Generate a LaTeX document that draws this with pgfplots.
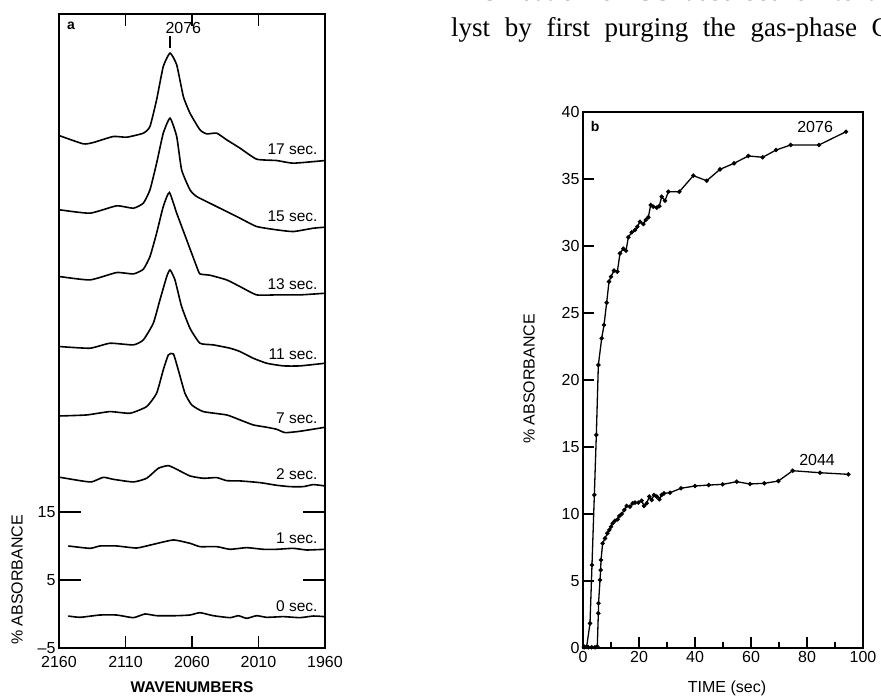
\documentclass[border=0pt]{standalone}
\usepackage{fontspec}
\setmainfont{Liberation Sans}
\newfontfamily\serifbody{Liberation Serif}
\usepackage{pgfplots}
\pgfplotsset{compat=1.18}
\newcommand{\tl}{\fontsize{16bp}{18bp}\selectfont}
\newcommand{\cl}{\fontsize{15.5bp}{17bp}\selectfont}
\tikzset{
  spec/.style={black, line width=1.6bp, smooth, tension=0.3, mark=none},
  kin/.style={black, line width=1.3bp, mark=*, mark size=1.5bp, mark options={solid, fill=black}},
}
\begin{document}
\begin{tikzpicture}
\useasboundingbox (0,0) rectangle (881bp,696bp);
% running text of the page
\node[anchor=base west, inner sep=0] at (480bp,695bp) {\serifbody\fontsize{27bp}{30bp}\selectfont\makebox[420bp][s]{Oxidation of CO adsorbed on to the}};
\node[anchor=base west, inner sep=0] at (451bp,659bp) {\serifbody\fontsize{27bp}{30bp}\selectfont\makebox[458bp][s]{lyst by first purging the gas-phase CO}};

% ---------------- panel a ----------------
\begin{axis}[
  at={(59bp,48bp)}, anchor=south west, scale only axis,
  width=266bp, height=634bp,
  x dir=reverse, xmin=1960, xmax=2160, ymin=-5, ymax=88.2,
  xtick={1960,2010,2060,2110,2160},
  xticklabels={1960,2010,2060,2110,2160},
  x tick label style={yshift=-5bp},
  ytick=\empty,
  extra y ticks={-5,5,15},
  extra y tick labels={\textendash5,5,15},
  extra y tick style={major tick length=22bp},
  tick align=inside, major tick length=12bp,
  tick style={black, line width=1.3bp},
  axis line style={line width=1.4bp},
  tick label style={font=\tl},
  /pgf/number format/1000 sep={},
  /pgf/number format/assume math mode=true,
  clip=false,
]
% 17 sec
\addplot[spec] coordinates {(2159.3,70.29)(2141.7,69.11)(2134.2,69.31)(2119.2,70.19)(2109.1,70.09)(2096.6,70.68)(2091.6,71.66)(2086.6,75.59)(2081.6,80.49)(2076.5,82.45)(2071.5,80.73)(2066.5,76.07)(2061.5,73.62)(2054.0,71.17)(2049.0,70.58)(2041.4,70.68)(2033.9,69.70)(2023.9,68.48)(2011.4,66.86)(1996.3,66.66)(1983.8,66.27)(1960.0,66.66)};
% 15 sec
\addplot[spec] coordinates {(2159.3,59.41)(2136.7,58.92)(2116.7,60.00)(2104.1,59.65)(2096.6,60.39)(2091.6,62.35)(2086.6,66.27)(2081.6,70.68)(2076.5,72.89)(2071.5,70.19)(2067.8,65.29)(2061.5,62.35)(2056.5,61.37)(2044.0,60.14)(2028.9,58.67)(2023.9,58.18)(2011.4,56.96)(1996.3,56.47)(1983.8,56.22)(1968.8,56.71)(1960.0,56.86)};
% 13 sec
\addplot[spec] coordinates {(2159.3,49.60)(2136.7,49.11)(2116.7,50.19)(2104.1,49.99)(2096.6,50.68)(2091.6,52.54)(2086.6,55.98)(2081.6,59.90)(2077.0,61.96)(2071.5,58.92)(2064.0,54.99)(2056.5,51.07)(2054.0,49.99)(2046.5,49.80)(2033.9,49.11)(2023.9,48.13)(2011.4,46.91)(1996.3,46.91)(1978.8,46.91)(1960.0,47.15)};
% 11 sec
\addplot[spec] coordinates {(2159.3,39.31)(2136.7,39.07)(2121.7,39.80)(2104.1,39.56)(2096.6,40.29)(2089.1,42.74)(2084.1,46.17)(2079.0,49.60)(2076.5,50.58)(2072.8,49.11)(2067.8,45.19)(2061.5,42.00)(2054.0,39.80)(2044.0,39.56)(2031.4,39.07)(2023.9,38.58)(2013.9,37.59)(2003.8,36.86)(1991.3,36.47)(1978.8,36.47)(1960.0,36.86)};
% 7 sec
\addplot[spec] coordinates {(2159.3,29.11)(2139.2,29.26)(2121.7,29.75)(2106.6,29.51)(2094.1,30.49)(2086.6,32.45)(2081.6,35.88)(2077.8,38.08)(2074.0,38.23)(2070.3,35.88)(2065.3,32.45)(2060.2,30.73)(2051.5,29.75)(2033.9,29.26)(2023.9,28.53)(2013.9,27.79)(2003.8,27.45)(1996.3,27.15)(1990.0,26.66)(1978.8,26.86)(1960.0,27.45)};
% 2 sec
\addplot[spec] coordinates {(2159.3,20.09)(2144.2,19.60)(2135.5,19.41)(2126.7,20.09)(2119.2,19.80)(2104.1,19.41)(2094.1,19.95)(2085.3,21.42)(2077.8,21.81)(2071.5,21.27)(2061.5,20.29)(2051.5,19.95)(2041.4,20.05)(2033.9,19.60)(2023.9,19.56)(2008.9,19.31)(1996.3,18.92)(1986.3,18.72)(1976.3,18.72)(1968.8,19.02)(1960.0,18.82)};
% 1 sec
\addplot[spec] coordinates {(2153.0,10.00)(2136.7,9.65)(2129.2,10.00)(2116.7,10.00)(2101.6,9.70)(2089.1,10.24)(2074.0,10.88)(2061.5,10.39)(2054.0,9.90)(2041.4,9.90)(2031.4,9.51)(2018.9,9.75)(2006.4,9.51)(1996.3,9.51)(1983.8,9.65)(1973.8,9.41)(1960.0,9.51)};
% 0 sec
\addplot[spec] coordinates {(2153.0,-0.30)(2144.2,-0.49)(2129.2,-0.15)(2116.7,-0.15)(2104.1,-0.54)(2095.3,0.00)(2086.6,-0.25)(2071.5,-0.25)(2061.5,-0.15)(2054.0,0.19)(2044.0,-0.25)(2031.4,-0.54)(2025.1,-0.25)(2018.9,-0.64)(2011.4,-0.25)(2003.8,-0.49)(1991.3,-0.39)(1978.8,-0.54)(1968.8,-0.30)(1960.0,-0.39)};
% curve labels
\node[anchor=base east, font=\cl] at (axis cs:1963,67.6) {17 sec.};
\node[anchor=base east, font=\cl] at (axis cs:1963,57.7) {15 sec.};
\node[anchor=base east, font=\cl] at (axis cs:1963,47.7) {13 sec.};
\node[anchor=base east, font=\cl] at (axis cs:1963,37.4) {11 sec.};
\node[anchor=base east, font=\cl] at (axis cs:1963,28.0) {7 sec.};
\node[anchor=base east, font=\cl] at (axis cs:1963,19.7) {2 sec.};
\node[anchor=base east, font=\cl] at (axis cs:1963,10.4) {1 sec.};
\node[anchor=base east, font=\cl] at (axis cs:1963,0.35) {0 sec.};
\draw[line width=1.2bp] (axis cs:2076.5,83.2) -- (axis cs:2076.5,84.9);
\node[font=\tl] at (axis cs:2066.5,86.1) {2076};
\node[font=\bfseries\fontsize{14bp}{15bp}\selectfont] at (axis cs:2151,86.5) {a};
\end{axis}
\node[rotate=90, font=\tl] at (17bp,116bp) {\% ABSORBANCE};
\node[font=\bfseries\fontsize{15.5bp}{17bp}\selectfont] at (192bp,9bp) {WAVENUMBERS};

% ---------------- panel b ----------------
\begin{axis}[
  at={(583bp,48bp)}, anchor=south west, scale only axis,
  width=280bp, height=536bp,
  xmin=0, xmax=100, ymin=0, ymax=40,
  xtick={0,20,40,60,80,100},
  minor xtick={10,30,50,70,90},
  ytick={0,5,10,15,20,25,30,35,40},
  tick align=inside, tick pos=left,
  major tick length=11bp, minor tick length=6bp,
  tick style={black, line width=1.2bp},
  axis line style={line width=1.4bp},
  tick label style={font=\tl},
  /pgf/number format/assume math mode=true,
  clip=false,
]
% 2076 cm-1 band
\addplot[kin] coordinates {(0.36,0.1)(1.31,0.1)(2.5,1.84)(3.21,6.19)(4.05,11.42)(4.76,15.90)(5.48,21.12)(6.67,23.11)(7.5,24.10)(8.45,25.77)(9.29,27.34)(10.0,27.71)(11.07,28.16)(12.26,28.08)(13.21,29.45)(14.4,29.80)(15.36,29.65)(16.19,30.65)(17.38,31.02)(18.57,31.19)(19.4,31.44)(20.36,31.81)(21.55,31.64)(22.38,31.94)(23.33,32.14)(24.17,33.06)(25.12,32.93)(26.31,32.86)(27.26,32.98)(28.1,33.68)(29.29,33.38)(30.48,34.05)(34.40,34.05)(39.4,35.25)(44.17,34.87)(48.93,35.72)(53.93,36.17)(59.05,36.72)(64.17,36.62)(68.93,37.16)(74.17,37.54)(84.29,37.54)(93.93,38.53)};
% 2044 cm-1 band
\addplot[kin] coordinates {(0.36,0.05)(1.9,0.05)(3.1,0.05)(4.3,0.05)(5.1,0.1)(5.48,2.59)(5.55,3.34)(6.07,5.07)(6.31,5.82)(6.43,6.57)(7.02,7.81)(7.86,8.18)(8.69,8.56)(9.4,8.81)(10.0,9.05)(10.6,9.30)(11.43,9.50)(12.38,9.60)(12.98,9.85)(13.81,10.0)(14.76,10.30)(15.6,10.60)(16.79,10.55)(17.74,10.80)(18.57,10.85)(19.76,10.85)(20.95,11.0)(21.79,10.60)(22.74,10.80)(23.69,11.30)(24.52,11.05)(25.36,11.42)(26.31,11.30)(27.26,11.10)(28.1,11.42)(28.93,11.54)(31.07,11.59)(35.0,11.92)(40.0,12.09)(44.88,12.16)(49.88,12.21)(54.88,12.41)(59.64,12.24)(64.76,12.29)(69.76,12.46)(74.88,13.23)(84.64,13.08)(94.76,12.96)};
\node[font=\tl] at (axis cs:82.9,38.9) {2076};
\node[font=\tl] at (axis cs:83.6,14.0) {2044};
\node[font=\bfseries\fontsize{14bp}{15bp}\selectfont] at (axis cs:4.3,38.9) {b};
\end{axis}
\node[rotate=90, font=\tl] at (529bp,317bp) {\% ABSORBANCE};
\node[font=\tl] at (727bp,8bp) {TIME (sec)};
\end{tikzpicture}
\end{document}
